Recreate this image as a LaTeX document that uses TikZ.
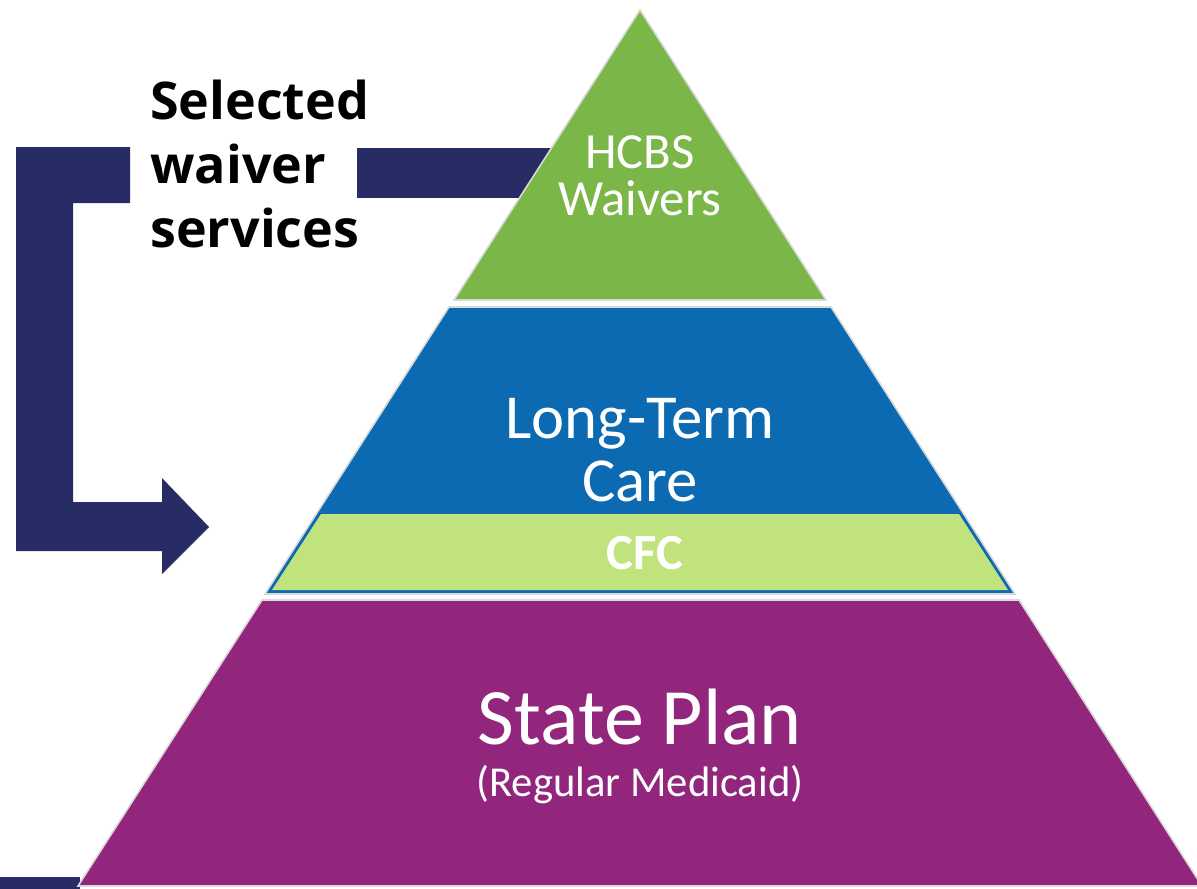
\documentclass[tikz,border=0pt]{standalone}
\usepackage{fontspec}
\setmainfont{Carlito}
\newfontfamily\labelfont{Open Sans}
\usepackage{tikz}
\usepackage{xcolor}
\usetikzlibrary{positioning}

\begin{document}
\begin{tikzpicture}[x=0.75pt,y=-0.75pt,
  layer/.style={draw=white!85!black,line width=1.2pt},
  tier/.style={text=white,align=center,inner sep=0}]
\definecolor{hcbs}{HTML}{7AB648}
\definecolor{ltc}{HTML}{0B6AB2}
\definecolor{cfc}{HTML}{C1E37E}
\definecolor{plan}{HTML}{91267C}
\definecolor{navy}{HTML}{282C64}
\useasboundingbox (0,0) rectangle (1197,889);
% bracket arrow
\fill[navy] (357,148) rectangle (560,198);
\fill[navy] (0,877) rectangle (80,889);
\fill[navy] (16,147) -- (130,147) -- (130,203) -- (73,203) -- (73,502) -- (162,502)
  -- (162,478) -- (209,527) -- (162,574) -- (162,551) -- (16,551) -- cycle;
% pyramid
\filldraw[layer,fill=hcbs] (640,10) -- (826,300) -- (454,300) -- cycle;
\filldraw[layer,fill=ltc] (449,307) -- (831,307) -- (1015,594) -- (265,594) -- cycle;
\fill[cfc] (321,514) -- (959,514) -- (1008,590) -- (272,590) -- cycle;
\filldraw[layer,fill=plan] (262,600) -- (1019,600) -- (1202,886) -- (78,886) -- cycle;
\node[font=\labelfont\bfseries\fontsize{39}{48}\selectfont,align=left,anchor=north west,inner sep=0]
  (sel) at (150,80) {Selected\\waiver\\services};
\node[tier,font=\fontsize{38}{35}\selectfont] (waivers) at (640,176) {HCBS\\Waivers};
\node[tier,font=\fontsize{47}{47}\selectfont] (care) at (640,450) {Long-Term\\Care};
\node[tier,font=\bfseries\fontsize{38}{38}\selectfont] (cfcband) at (645,553) {CFC};
\node[tier,font=\fontsize{60}{60}\selectfont] (state) at (640,717) {State Plan};
\node[tier,font=\fontsize{32}{32}\selectfont,below=15pt of state] (medicaid) {(Regular Medicaid)};
\end{tikzpicture}
\end{document}
